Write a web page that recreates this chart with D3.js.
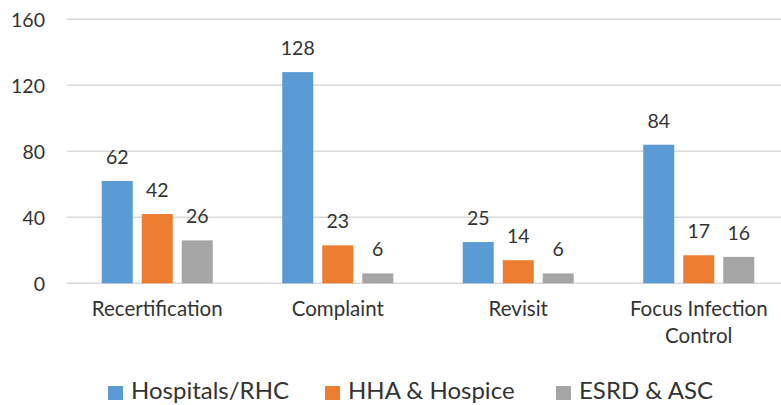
<!DOCTYPE html>
<html>
<head>
<meta charset="utf-8">
<script src="https://cdn.jsdelivr.net/npm/d3@7"></script>
<style>
  html, body { margin: 0; padding: 0; background: #ffffff; }
  svg { display: block; }
  text { font-family: Lato, "Open Sans", sans-serif; fill: #333333; }
</style>
</head>
<body>
<div id="chart"></div>
<script>
// ---- Data ----
const categories = ["Recertification", "Complaint", "Revisit", "Focus Infection Control"];
const seriesNames = ["Hospitals/RHC", "HHA & Hospice", "ESRD & ASC"];
const hospitals = [62, 128, 25, 84];
const hhaHospice = [42, 23, 14, 17];
const esrdAsc = [26, 6, 6, 16];
const yTicks = [0, 40, 80, 120, 160];
const colors = ["#5b9bd5", "#ed7d31", "#a5a5a5"];

const seriesValues = [hospitals, hhaHospice, esrdAsc];
const rows = categories.map((c, i) => ({
  category: c,
  values: seriesNames.map((s, j) => ({ series: s, value: seriesValues[j][i], color: colors[j] }))
}));

const W = 781, H = 405;
const svg = d3.select("#chart").append("svg").attr("width", W).attr("height", H);

const plotLeft = 67, plotRight = 789, plotTop = 19.3, plotBottom = 283.3;

const y = d3.scaleLinear().domain([0, 160]).range([plotBottom, plotTop]);
const x0 = d3.scaleBand().domain(categories).range([plotLeft, plotRight])
  .paddingInner(0.385).paddingOuter(0.1925);
const x1 = d3.scaleBand().domain(seriesNames).range([0, x0.bandwidth()])
  .paddingInner(0.225).paddingOuter(0);

// gridlines
svg.append("g").selectAll("line").data(yTicks).join("line")
  .attr("x1", plotLeft).attr("x2", plotRight)
  .attr("y1", d => y(d)).attr("y2", d => y(d))
  .attr("stroke", "#d9d9d9").attr("stroke-width", 1.5);

// y tick labels
svg.append("g").selectAll("text").data(yTicks).join("text")
  .attr("x", 45).attr("y", d => y(d))
  .attr("text-anchor", "end").attr("dominant-baseline", "central")
  .style("font-size", "19.5px")
  .text(d => d);

// bars
const groups = svg.append("g").selectAll("g").data(rows).join("g")
  .attr("transform", d => `translate(${x0(d.category)},0)`);

groups.selectAll("rect").data(d => d.values).join("rect")
  .attr("x", d => x1(d.series))
  .attr("width", x1.bandwidth())
  .attr("y", d => y(d.value))
  .attr("height", d => y(0) - y(d.value))
  .attr("fill", d => d.color);

groups.selectAll("text.val").data(d => d.values).join("text")
  .attr("class", "val")
  .attr("x", d => x1(d.series) + x1.bandwidth() / 2)
  .attr("y", d => y(d.value) - 17)
  .attr("text-anchor", "middle")
  .style("font-size", "19.5px")
  .text(d => d.value);

// category labels (wrap long one)
const catLines = {
  "Recertification": ["Recertification"],
  "Complaint": ["Complaint"],
  "Revisit": ["Revisit"],
  "Focus Infection Control": ["Focus Infection", "Control"]
};
svg.append("g").selectAll("text").data(categories).join("text")
  .attr("x", d => x0(d) + x0.bandwidth() / 2)
  .attr("y", 316)
  .attr("text-anchor", "middle")
  .style("font-size", "20.5px")
  .each(function (d) {
    const t = d3.select(this);
    catLines[d].forEach((ln, i) => {
      t.append("tspan").attr("x", x0(d) + x0.bandwidth() / 2)
        .attr("dy", i === 0 ? 0 : 27).text(ln);
    });
  });

// legend
const legendX = [108, 325, 556];
const lg = svg.append("g").selectAll("g").data(seriesNames).join("g")
  .attr("transform", (d, i) => `translate(${legendX[i]},0)`);
lg.append("rect").attr("x", 0).attr("y", 386).attr("width", 15).attr("height", 14)
  .attr("fill", (d, i) => colors[i]);
lg.append("text").attr("x", 23).attr("y", 399)
  .style("font-size", "24px")
  .text(d => d);
</script>
</body>
</html>
